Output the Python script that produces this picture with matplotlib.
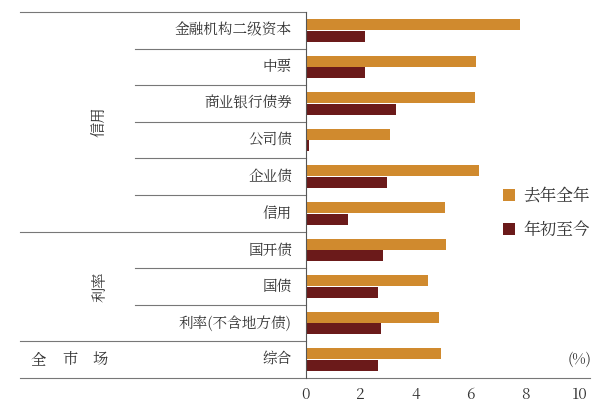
import matplotlib
matplotlib.use("Agg")
import matplotlib.pyplot as plt
from matplotlib import font_manager as fm

cjk = None
for f in fm.fontManager.ttflist:
    if "CJK" in f.name and ("SC" in f.name or cjk is None):
        cjk = f.name
        if "SC" in f.name:
            break
plt.rcParams["font.family"] = [cjk or "Noto Sans CJK SC", "DejaVu Sans"]

categories = ["金融机构二级资本", "中票", "商业银行债券", "公司债", "企业债", "信用",
              "国开债", "国债", "利率(不含地方债)", "综合"]
last_year = [7.8, 6.2, 6.15, 3.07, 6.3, 5.07, 5.1, 4.45, 4.85, 4.93]
ytd = [2.15, 2.15, 3.28, 0.1, 2.95, 1.53, 2.8, 2.63, 2.74, 2.63]
series_names = ["去年全年", "年初至今"]
groups = [("信用", 0, 6), ("利率", 6, 9), ("全市场", 9, 10)]

c1, c2 = "#D08A2E", "#6B1A1A"
txt = "#333333"
fig = plt.figure(figsize=(6.11, 4.13), dpi=100)
ax = fig.add_axes([306/611, 35/413, 274/611, 366/413])
ys = [i + 0.5 for i in range(len(categories))]
ax.barh([y - 0.16 for y in ys], last_year, height=0.3, color=c1, label=series_names[0])
ax.barh([y + 0.16 for y in ys], ytd, height=0.3, color=c2, label=series_names[1])
ax.set_ylim(10, 0)
ax.set_xlim(0, 10)
ax.set_xticks([0, 2, 4, 6, 8, 10])
ax.tick_params(axis="x", length=0, labelsize=11, colors=txt, pad=6)
ax.set_yticks([])
for s in ["top", "right", "bottom"]:
    ax.spines[s].set_visible(False)
ax.spines["left"].set_color("#555555")
tr = ax.get_yaxis_transform()
lc = "#777777"
for i, c in enumerate(categories):
    ax.text(-0.051, ys[i], c, transform=tr, ha="right", va="center", fontsize=10.5, color=txt)
for b in range(1, 10):
    x0 = -1.044 if b in (6, 9) else -0.624
    ax.plot([x0, 0], [b, b], transform=tr, color=lc, lw=0.8, clip_on=False)
ax.plot([-1.044, 0], [0, 0], transform=tr, color=lc, lw=0.8, clip_on=False)
ax.plot([-1.044, 1.036], [10, 10], transform=tr, color=lc, lw=0.8, clip_on=False)
for name, a, b in groups:
    if len(name) == 2:
        ax.text(-0.752, (a + b) / 2, name, transform=tr, rotation=90, ha="center", va="center", fontsize=11, color=txt)
    else:
        for ch, x in zip(name, [-0.978, -0.861, -0.752]):
            ax.text(x, (a + b) / 2, ch, transform=tr, ha="center", va="center", fontsize=11, color=txt)
ax.text(1.0, 9.5, "(%)", transform=tr, ha="center", va="center", fontsize=10.5, color=txt)
fig.legend(loc="upper left", bbox_to_anchor=(488/611, 1 - 172/413), frameon=False,
           fontsize=12, handlelength=0.7, handleheight=0.7, labelspacing=1.0, handletextpad=0.5,
           labelcolor=txt)
fig.savefig("out.png", dpi=100)
